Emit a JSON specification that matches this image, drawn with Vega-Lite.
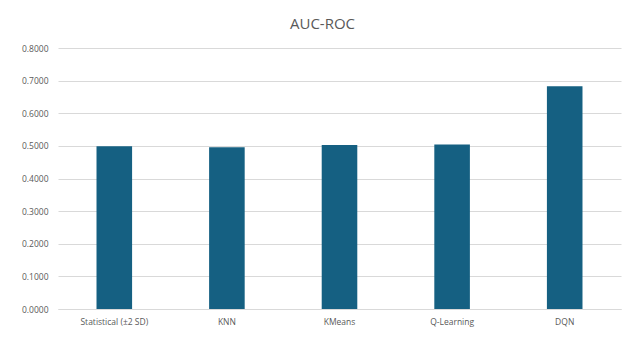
{
  "$schema": "https://vega.github.io/schema/vega-lite/v6.json",
  "width": 563,
  "height": 261,
  "autosize": {"type": "none"},
  "padding": {"left": 58, "top": 48, "right": 17, "bottom": 29},
  "background": "white",
  "title": {
    "text": "AUC-ROC",
    "fontSize": 15,
    "font": "Open Sans",
    "fontWeight": "normal",
    "color": "#595959",
    "baseline": "alphabetic",
    "offset": 19,
    "dy": 19,
    "dx": -17,
    "anchor": "middle",
    "frame": "group"
  },
  "data": {
    "values": [
      {"model": "Statistical (±2 SD)", "auc": 0.499},
      {"model": "KNN", "auc": 0.4955},
      {"model": "KMeans", "auc": 0.503},
      {"model": "Q-Learning", "auc": 0.5045},
      {"model": "DQN", "auc": 0.683}
    ]
  },
  "mark": {"type": "bar", "color": "#156082"},
  "encoding": {
    "x": {
      "field": "model",
      "type": "nominal",
      "sort": null,
      "scale": {"paddingInner": 0.684, "paddingOuter": 0.342},
      "axis": {
        "title": null,
        "labelAngle": 0,
        "labelFont": "Open Sans",
        "labelFontSize": 8.5,
        "labelColor": "#595959",
        "labelPadding": 8,
        "ticks": false,
        "domainColor": "#d9d9d9",
        "domainWidth": 1
      }
    },
    "y": {
      "field": "auc",
      "type": "quantitative",
      "scale": {"domain": [0, 0.8]},
      "axis": {
        "title": null,
        "format": ".4f",
        "values": [0, 0.1, 0.2, 0.3, 0.4, 0.5, 0.6, 0.7, 0.8],
        "labelOverlap": false,
        "labelFont": "Open Sans",
        "labelFontSize": 8.5,
        "labelColor": "#595959",
        "labelPadding": 10,
        "ticks": false,
        "domain": false,
        "gridColor": "#d9d9d9",
        "gridWidth": 1
      }
    }
  },
  "config": {"view": {"stroke": null}}
}
